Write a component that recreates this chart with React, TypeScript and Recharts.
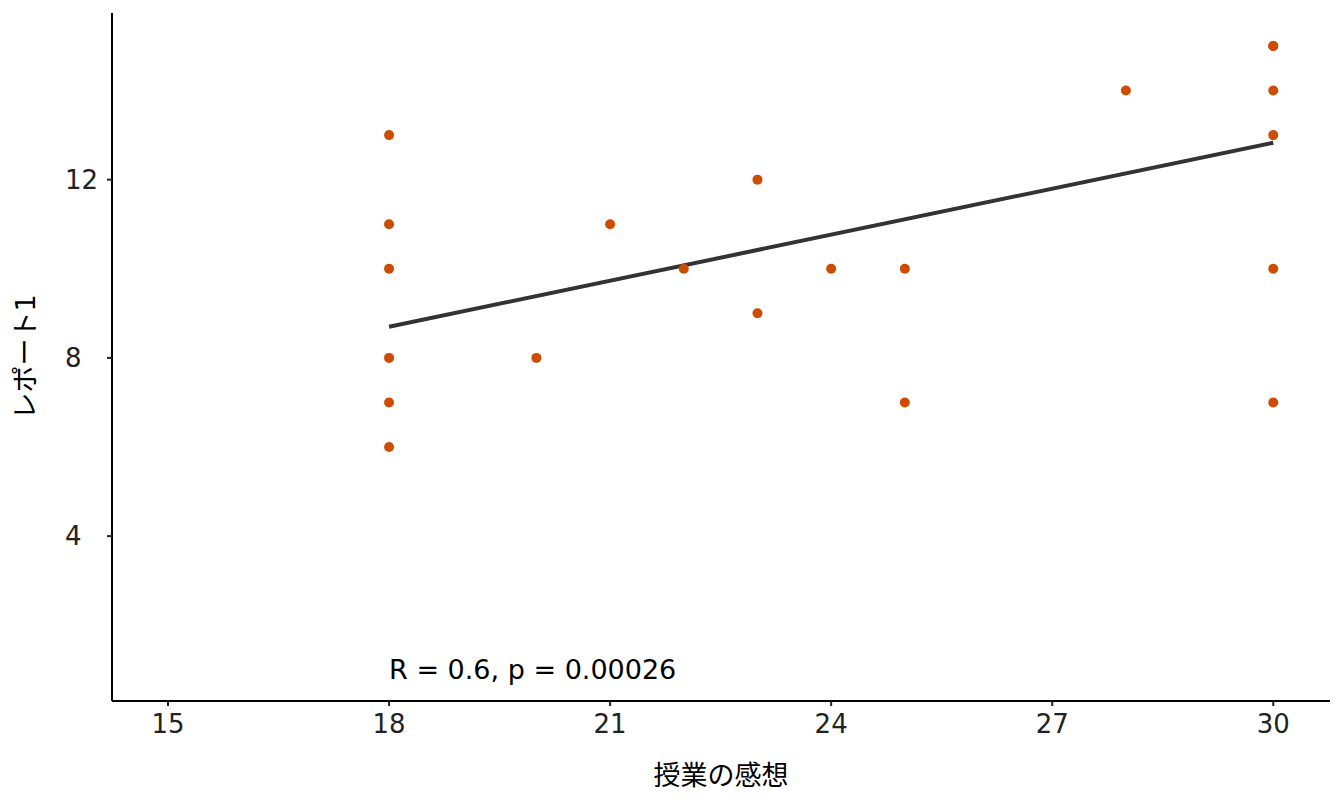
import React from 'react';
import {
  ScatterChart,
  Scatter,
  XAxis,
  YAxis,
  ReferenceLine,
  ReferenceDot,
} from 'recharts';

// 授業の感想 vs レポート1
const impressionScores = [18, 18, 18, 18, 18, 18, 20, 21, 22, 23, 23, 24, 25, 25, 28, 30, 30, 30, 30, 30, 30];
const reportScores = [13, 11, 10, 8, 7, 6, 8, 11, 10, 12, 9, 10, 10, 7, 14, 15, 15, 14, 13, 10, 7];

// fitted regression line, end points
const fitX = [18, 30];
const fitY = [8.7, 12.83];

const xTicks = [15, 18, 21, 24, 27, 30];
const yTicks = [4, 8, 12];
const statsText = 'R = 0.6, p = 0.00026';

const points = impressionScores.map((x, i) => ({ x, y: reportScores[i] }));

const FONT = '"DejaVu Sans", "Noto Sans CJK JP", sans-serif';

const Dot = (props: any) => (
  <circle cx={props.cx} cy={props.cy} r={5} fill="#cc4c02" />
);

// y tick labels sit left-aligned in the reference
const YTick = (props: any) => (
  <text
    x={props.x - 35}
    y={props.y}
    textAnchor="start"
    dominantBaseline="central"
    fontSize={26}
    fontFamily={FONT}
    fill="#222"
  >
    {props.payload.value}
  </text>
);

const StatsLabel = (props: any) => {
  const { viewBox } = props;
  return (
    <text
      x={viewBox.x}
      y={viewBox.y}
      textAnchor="start"
      dominantBaseline="central"
      fontSize={27}
      fontFamily={FONT}
      fill="#000"
    >
      {statsText}
    </text>
  );
};

export default function App() {
  return (
    <div style={{ position: 'absolute', left: 0, top: 0, width: 1344, height: 806, background: '#fff' }}>
      <ScatterChart
        width={1344}
        height={806}
        margin={{ top: 13, right: 14, bottom: 45, left: 52 }}
        style={{ fontFamily: FONT }}
      >
        <XAxis
          type="number"
          dataKey="x"
          domain={[14.24, 30.77]}
          ticks={xTicks}
          allowDataOverflow
          height={60}
          axisLine={{ stroke: '#000', strokeWidth: 2 }}
          tickLine={{ stroke: '#222', strokeWidth: 2 }}
          tickSize={5}
          tickMargin={9}
          tick={{ fill: '#222', fontSize: 26, fontFamily: FONT }}
          label={{ value: '授業の感想', position: 'insideBottom', offset: -24, fill: '#000', fontSize: 27, fontFamily: FONT }}
        />
        <YAxis
          type="number"
          dataKey="y"
          domain={[0.3, 15.74]}
          ticks={yTicks}
          allowDataOverflow
          width={60}
          axisLine={{ stroke: '#000', strokeWidth: 2 }}
          tickLine={{ stroke: '#222', strokeWidth: 2 }}
          tickSize={5}
          tickMargin={7}
          tick={<YTick />}
          label={{ value: 'レポート1', angle: -90, position: 'insideLeft', offset: -27, fill: '#000', fontSize: 27, fontFamily: FONT, style: { textAnchor: 'middle' } }}
        />
        <Scatter data={points} shape={Dot} isAnimationActive={false} />
        <ReferenceLine
          segment={[
            { x: fitX[0], y: fitY[0] },
            { x: fitX[1], y: fitY[1] },
          ]}
          stroke="#333"
          strokeWidth={4}
          ifOverflow="visible"
        />
        <ReferenceDot x={18} y={1} r={0} stroke="none" fill="none" label={<StatsLabel />} ifOverflow="visible" />
      </ScatterChart>
    </div>
  );
}
